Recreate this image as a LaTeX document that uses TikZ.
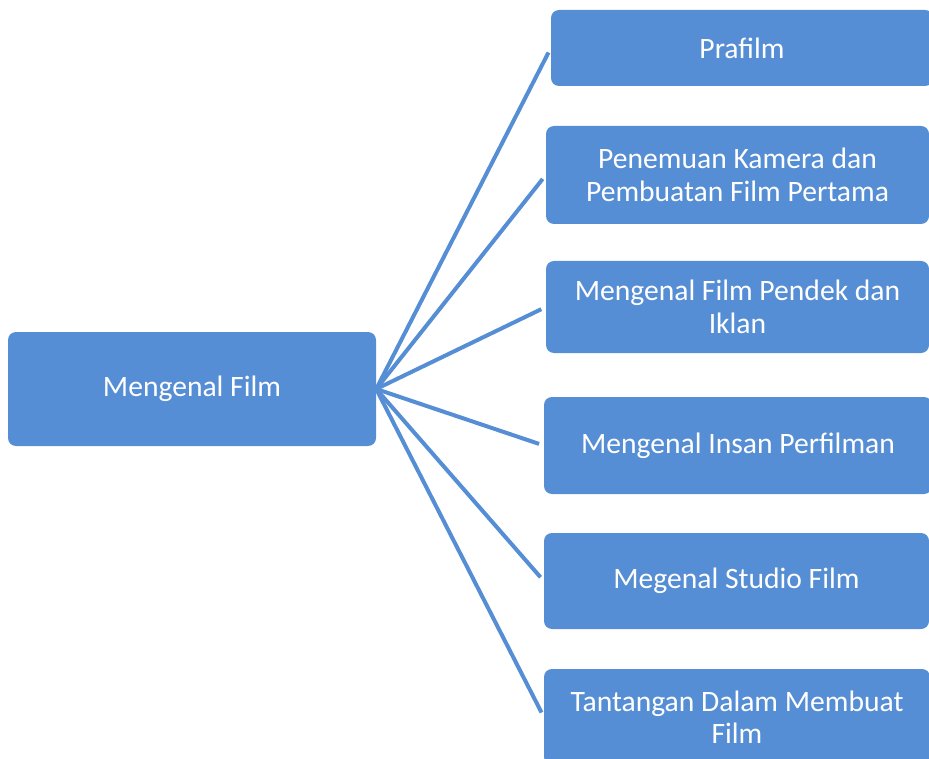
\documentclass[tikz,border=0pt]{standalone}
\usepackage{fontspec}
\setmainfont{Carlito}
\usepackage{tikz}
\usetikzlibrary{positioning}
\usepackage{xcolor}
\definecolor{boxblue}{RGB}{85,142,213}
\tikzstyle{line} = [draw=boxblue, line width=4pt, shorten >=5pt]
\tikzstyle{topic} = [rectangle, rounded corners=8pt, text centered, align=center, fill=boxblue, text=white, inner sep=0pt, font=\fontsize{29.6}{32.5}\selectfont]

\begin{document}
\begin{tikzpicture}[x=1pt,y=-1pt]
      \useasboundingbox (0,0) rectangle (929,759);
      \clip (0,0) rectangle (929,759);
      \node (MengenalFilm) [topic, minimum width=368pt, minimum height=114pt] at (192,389) {Mengenal Film};

      \node (Prafilm) [topic, minimum width=382pt, minimum height=76pt] at (742,48) {Prafilm};
      \node (Kamera) [topic, minimum width=383pt, minimum height=98pt] at (737.5,175) {Penemuan Kamera dan\\Pembuatan Film Pertama};
      \node (FilmPendek) [topic, minimum width=383pt, minimum height=92pt] at (737.5,307) {Mengenal Film Pendek dan\\Iklan};
      \node (Insan) [topic, minimum width=388pt, minimum height=97pt] at (738,445.5) {Mengenal Insan Perfilman};
      \node (Studio) [topic, minimum width=385pt, minimum height=96pt] at (736.5,581) {Megenal Studio Film};
      \node (Tantangan) [topic, minimum width=386pt, minimum height=96pt] at (737,717) {Tantangan Dalam Membuat\\Film};

      \draw [line] (MengenalFilm.east) -- (Prafilm.west);
      \draw [line] (MengenalFilm.east) -- (Kamera.west);
      \draw [line] (MengenalFilm.east) -- (FilmPendek.west);
      \draw [line] (MengenalFilm.east) -- (Insan.west);
      \draw [line] (MengenalFilm.east) -- (Studio.west);
      \draw [line] (MengenalFilm.east) -- (Tantangan.west);
    \end{tikzpicture}
\end{document}
